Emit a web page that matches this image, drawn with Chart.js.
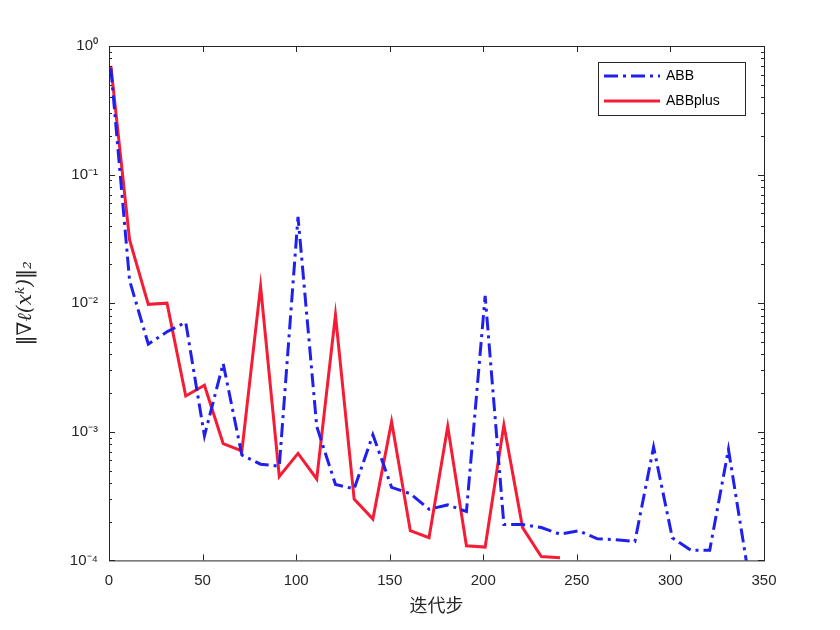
<!DOCTYPE html>
<html><head><meta charset="utf-8">
<script src="https://cdn.jsdelivr.net/npm/chart.js@4"></script>
<style>body{margin:0;background:#fff}#wrap{width:840px;height:630px}</style>
</head><body><div id="wrap"><canvas id="c"></canvas></div>
<script>
// iteration steps (every 10th iterate)
const steps = [1,11,21,31,41,51,61,71,81,91,101,111,121,131,141,151,161,171,181,191,201,211,221,231,241,251,261,271,281,291,301,311,321,331,341];
const abb = [0.67,0.015,0.0048,0.006,0.0071,0.00093,0.0034,0.00066,0.00056,0.00054,0.047,0.0011,0.00039,0.00036,0.00095,0.00037,0.00033,0.00025,0.00027,0.00024,0.0114,0.00019,0.00019,0.00018,0.00016,0.00017,0.000147,0.000145,0.00014,0.00076,0.00015,0.00012,0.00012,0.00073,0.00009];
const abbPlus = [0.7,0.031,0.0098,0.01,0.0019,0.0023,0.00081,0.00071,0.0135,0.00045,0.00068,0.00043,0.0081,0.0003,0.00021,0.0012,0.00017,0.00015,0.0011,0.00013,0.000127,0.00113,0.00018,0.000107,0.000105];
const yTicks = [1e-4,1e-3,1e-2,1e-1,1];
const yTickLabels = {'-4':'10⁻⁴','-3':'10⁻³','-2':'10⁻²','-1':'10⁻¹','0':'10⁰'};

const pts = (ys) => ys.map((v, i) => ({x: steps[i], y: v}));

// frame + inward ticks + legend, MATLAB-style
const frame = {
  id: 'frame',
  afterDatasetsDraw(chart) {
    const {ctx, chartArea: a, scales: {x, y}} = chart;
    ctx.save();
    ctx.strokeStyle = '#262626'; ctx.lineWidth = 1;
    ctx.strokeRect(a.left + 0.5, a.top + 0.5, a.right - a.left, a.bottom - a.top);
    ctx.beginPath();
    for (let t = 0; t <= 350; t += 50) {
      const px = Math.round(x.getPixelForValue(t)) + 0.5;
      ctx.moveTo(px, a.bottom); ctx.lineTo(px, a.bottom - 6);
      ctx.moveTo(px, a.top); ctx.lineTo(px, a.top + 6);
    }
    yTicks.forEach(t => {
      const py = Math.round(y.getPixelForValue(t)) + 0.5;
      ctx.moveTo(a.left, py); ctx.lineTo(a.left + 6, py);
      ctx.moveTo(a.right, py); ctx.lineTo(a.right - 6, py);
    });
    for (let d = -4; d < 0; d++) for (let m = 2; m < 10; m++) {
      const py = Math.round(y.getPixelForValue(m * Math.pow(10, d))) + 0.5;
      ctx.moveTo(a.left, py); ctx.lineTo(a.left + 3, py);
      ctx.moveTo(a.right, py); ctx.lineTo(a.right - 3, py);
    }
    ctx.stroke();
    // legend
    const lx = a.right - 166, ly = a.top + 16, lw = 147, lh = 53;
    ctx.fillStyle = '#fff'; ctx.fillRect(lx, ly, lw, lh);
    ctx.strokeRect(lx + 0.5, ly + 0.5, lw, lh);
    ctx.font = '14px Arial, "Liberation Sans"'; ctx.textBaseline = 'middle';
    chart.data.datasets.forEach((ds, i) => {
      const cy = ly + 14 + i * 25;
      ctx.strokeStyle = ds.borderColor; ctx.lineWidth = 3;
      ctx.setLineDash(ds.borderDash || []);
      ctx.beginPath(); ctx.moveTo(lx + 6, cy); ctx.lineTo(lx + 62, cy); ctx.stroke();
      ctx.setLineDash([]);
      ctx.fillStyle = '#000'; ctx.fillText(ds.label, lx + 68, cy);
    });
    ctx.restore();
  }
};

new Chart(document.getElementById('c'), {
  type: 'line',
  data: { datasets: [
    { label: 'ABB', data: pts(abb), borderColor: '#2020ee', borderWidth: 3, borderDash: [14, 5, 3, 5], pointRadius: 0, tension: 0 },
    { label: 'ABBplus', data: pts(abbPlus), borderColor: '#f41d35', borderWidth: 3, pointRadius: 0, tension: 0 }
  ]},
  options: {
    responsive: true, maintainAspectRatio: false, animation: false,
    layout: { padding: { left: 10, right: 76, top: 46, bottom: 10 } },
    plugins: { legend: { display: false }, tooltip: { enabled: false } },
    scales: {
      x: { type: 'linear', min: 0, max: 350,
        ticks: { stepSize: 50, color: '#262626', font: { size: 15, family: 'Arial, "Liberation Sans"' } },
        grid: { display: false },
        border: { display: false },
        title: { display: true, text: '迭代步', color: '#262626', font: { size: 18, family: '"Noto Sans CJK SC"' }, padding: { top: 2 } }
      },
      y: { type: 'logarithmic', min: 1e-4, max: 1,
        afterBuildTicks: s => { s.ticks = yTicks.map(v => ({ value: v })); },
        afterFit: s => { s.width = 99; },
        ticks: { color: '#262626', font: { size: 15, family: 'Arial, "Liberation Sans"' },
          callback: v => yTickLabels[String(Math.round(Math.log10(v)))] },
        grid: { display: false },
        border: { display: false },
        title: { display: true, text: '‖∇ℓ(xᵏ)‖₂', color: '#262626', font: { size: 20, family: '"DejaVu Serif"', style: 'italic' } }
      }
    }
  },
  plugins: [frame]
});
</script></body></html>
